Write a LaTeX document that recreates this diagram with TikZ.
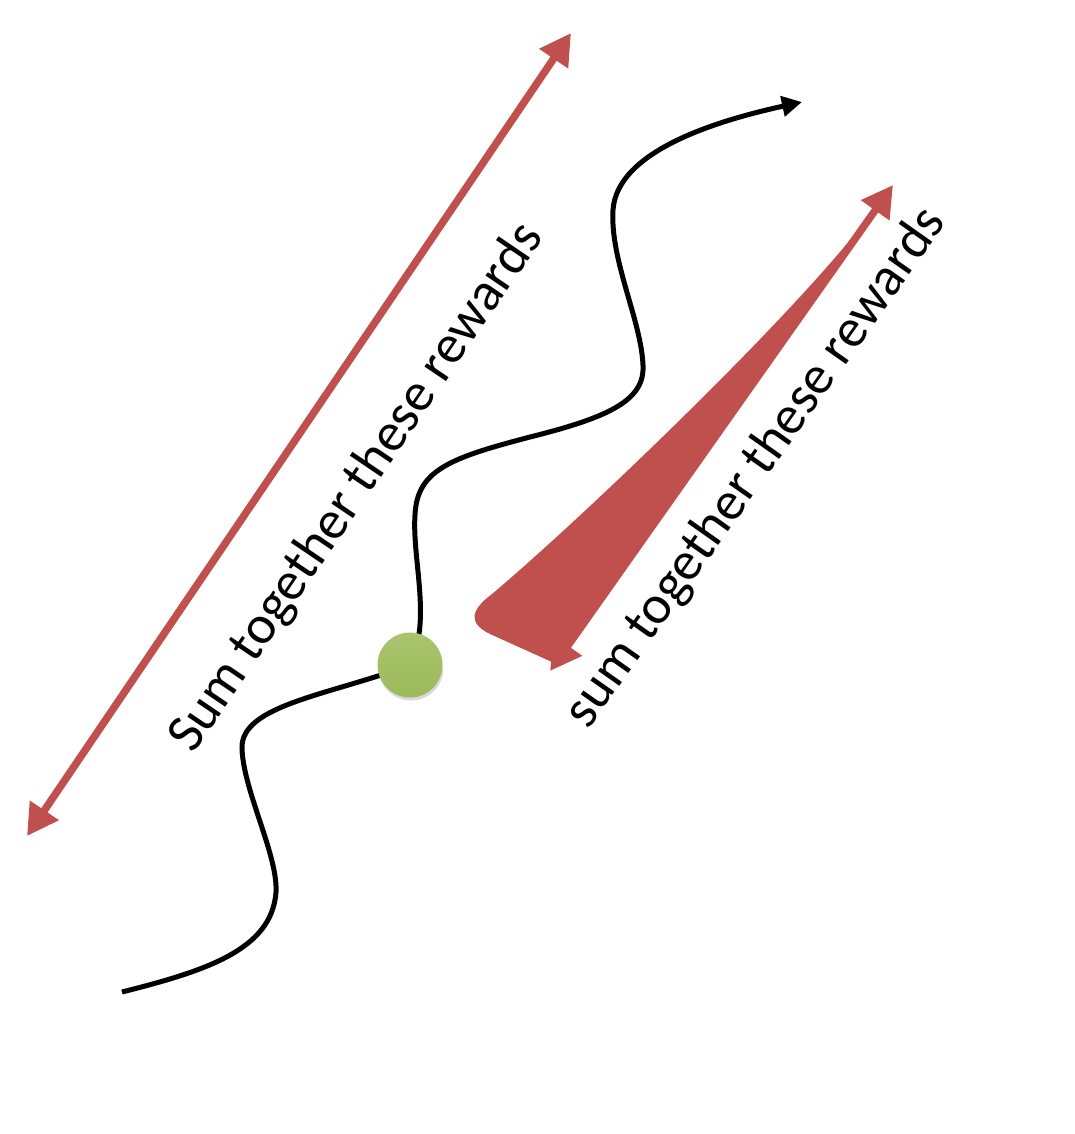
\documentclass[tikz,border=0pt]{standalone}
\usepackage{fontspec}
\setmainfont{Carlito}
\usetikzlibrary{arrows.meta,shadows}
\definecolor{rewardred}{HTML}{C0504D}
\definecolor{stategreen}{HTML}{9BBB59}
\definecolor{stategreenlt}{HTML}{A9C46E}
\begin{document}
\begin{tikzpicture}[
    x=0.02cm, y=-0.02cm,
    sumarr/.style={
        {Triangle[length=0.62cm,width=0.66cm]}-{Triangle[length=0.62cm,width=0.66cm]},
        line width=0.15cm,
        draw=rewardred
    },
    traj/.style={
        -{Triangle[length=0.4cm,width=0.4cm]},
        line width=0.1cm
    },
    state/.style={
        circle,
        minimum size=1.3cm,
        inner sep=0pt,
        top color=stategreenlt,
        bottom color=stategreen,
        drop shadow={opacity=0.3, shadow xshift=0.02cm, shadow yshift=-0.06cm}
    },
    lbl/.style={font=\fontsize{31}{35}\selectfont, inner sep=0pt}
]
    \useasboundingbox (0,0) rectangle (1075,1134);

    \coordinate (allfrom) at (27,836);
    \coordinate (allto) at (571,33);
    \coordinate (nowfrom) at (550,671);
    \coordinate (nowto) at (893,185);
    \coordinate (start) at (122,992);
    \coordinate (now) at (410,665);
    \coordinate (goal) at (802,102);

    \fill[rewardred] (872,212) .. controls (800,310) and (580,520) .. (492,594)
        .. controls (468,612) and (470,624) .. (490,634) -- (552,662) -- cycle;
    \draw[sumarr] (allfrom) -- (allto);
    \draw[sumarr] (nowfrom) -- (nowto);

    \draw[traj] (start) .. controls (205,971) and (272,950) .. (276,892)
        .. controls (278,855) and (243,790) .. (242,748)
        .. controls (241,705) and (330,695) .. (now)
        .. controls (432,620) and (412,560) .. (415,515)
        .. controls (417,470) and (450,458) .. (530,437)
        .. controls (610,417) and (645,400) .. (643,365)
        .. controls (641,320) and (610,260) .. (613,210)
        .. controls (617,150) and (720,120) .. (goal);

    \node[state] (s) at (now) {};

    \node[lbl, rotate=55.9] (allsum) at (357,488) {Sum together these rewards};
    \node[lbl, rotate=54.8] (nowsum) at (756,468) {sum together these rewards};
\end{tikzpicture}
\end{document}
